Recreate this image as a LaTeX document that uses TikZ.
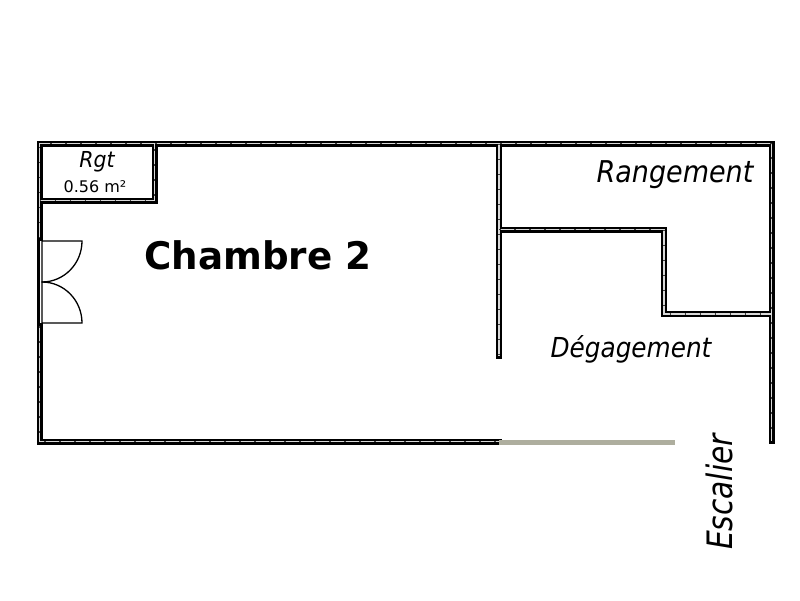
\documentclass[tikz,border=0pt]{standalone}
\usepackage{fontspec}
\setmainfont{DejaVu Sans}
\definecolor{railgrey}{RGB}{174,174,158}
\tikzset {
  wallout/.style = {
    draw = black,
    line width = 6pt,
    line cap = rect,
    miter limit = 10
  },
  wallin/.style = {
    draw = black!15,
    line width = 1.6pt
  },
  % little marks along the inside of a wall
  walltick/.style = {
    draw = black!75,
    line width = 1.6pt,
    dash pattern = on 1.5pt off 13.5pt
  },
  railing/.style = {
    draw = railgrey,
    line width = 5pt
  },
  door/.style = {
    draw = black,
    line width = 1.3pt
  },
  room/.style = {
    font = \itshape,
    inner sep = 0
  }
}
\begin{document}
\begin{tikzpicture}[x=1pt,y=-1pt]
    \useasboundingbox (0,0) rectangle (800,600);

    \coordinate (nw) at (39.5,143.5);
    \coordinate (ne) at (771.5,143.5);
    \coordinate (se) at (771.5,441);
    \coordinate (sw) at (39.5,441.5);
    \coordinate (rail-start) at (499,441.5);
    \coordinate (rail-end) at (675,442);
    \coordinate (door-top) at (39.5,238);
    \coordinate (door-bot) at (39.5,326);

    \foreach \wallstyle in {wallout,wallin,walltick} {
      \draw[\wallstyle] (door-top) -- (nw) -- (ne) -- (se);
      \draw[\wallstyle] (door-bot) -- (sw) -- (rail-start);
      \draw[\wallstyle] (39.5,200.5) -- (154.5,200.5) -- (154.5,143.5);
      \draw[\wallstyle] (499,143.5) -- (499,356);
      \draw[\wallstyle] (499,229.5) -- (664,229.5) -- (664,314) -- (771.5,314);
    }
    \draw[railing] (rail-start |- rail-end) -- (rail-end);

    % double door
    \draw[black,line width=3.4pt] (38.4,238) -- (38.4,326);
    \draw[door] (42,241) -- (82,241) arc[start angle=0,end angle=90,radius=40pt,y radius=-41pt] -- (42,241);
    \draw[door] (42,323) -- (82,323) arc[start angle=0,end angle=-90,radius=40pt,y radius=-41pt] -- (42,323);

    \node[room,xscale=.93,font=\itshape\fontsize{22}{22}\selectfont] (rgt) at (97,162) {Rgt};
    \node[inner sep=0,font=\fontsize{16}{16}\selectfont] (area) at (95,187) {0.56 m²};
    \node[inner sep=0,xscale=.98,font=\bfseries\fontsize{38}{38}\selectfont] (chambre) at (258,255) {Chambre 2};
    \node[room,xscale=.9,font=\itshape\fontsize{30}{30}\selectfont] (rangement) at (675,175) {Rangement};
    \node[room,xscale=.9,font=\itshape\fontsize{27.5}{27.5}\selectfont] (degagement) at (631,349) {Dégagement};
    \node[room,rotate=90,xscale=.85,font=\itshape\fontsize{35}{35}\selectfont] (escalier) at (719,492) {Escalier};
\end{tikzpicture}
\end{document}
